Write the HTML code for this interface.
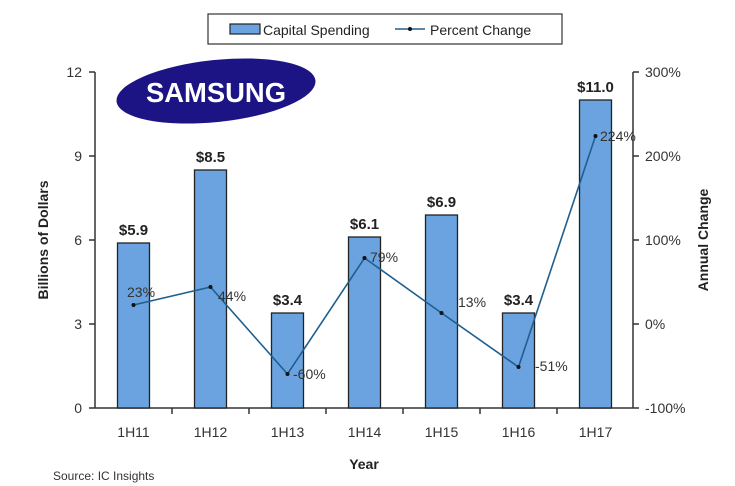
<!DOCTYPE html>
<html><head><style>body{margin:0;background:#fff}svg{display:block}text{font-family:"Liberation Sans",sans-serif}</style></head>
<body>
<svg width="735" height="486" viewBox="0 0 735 486">
<rect x="208" y="14" width="354" height="30" fill="#fff" stroke="#333" stroke-width="1.2"/>
<rect x="230" y="24" width="30" height="10" fill="#6aa3df" stroke="#222" stroke-width="1.2"/>
<text x="263" y="35" font-size="14" fill="#222">Capital Spending</text>
<line x1="395" y1="29" x2="425" y2="29" stroke="#1f5f8f" stroke-width="1.5"/>
<circle cx="410" cy="29" r="2" fill="#111"/>
<text x="430" y="35" font-size="14" fill="#222">Percent Change</text>
<ellipse cx="216" cy="91" rx="100" ry="31" transform="rotate(-6 216 91)" fill="#1c1485"/>
<text x="216" y="102" font-size="28" font-weight="bold" fill="#fff" text-anchor="middle" textLength="140" lengthAdjust="spacingAndGlyphs">SAMSUNG</text>
<g stroke="#333" stroke-width="1.5">
<line x1="95" y1="72" x2="95" y2="408"/><line x1="633" y1="72" x2="633" y2="408"/><line x1="95" y1="408" x2="633" y2="408"/>
<line x1="89" y1="72" x2="95" y2="72"/><line x1="89" y1="156" x2="95" y2="156"/><line x1="89" y1="240" x2="95" y2="240"/><line x1="89" y1="324" x2="95" y2="324"/><line x1="89" y1="408" x2="95" y2="408"/>
<line x1="633" y1="72" x2="639" y2="72"/><line x1="633" y1="156" x2="639" y2="156"/><line x1="633" y1="240" x2="639" y2="240"/><line x1="633" y1="324" x2="639" y2="324"/><line x1="633" y1="408" x2="639" y2="408"/>
<line x1="172" y1="408" x2="172" y2="414"/><line x1="249" y1="408" x2="249" y2="414"/><line x1="326" y1="408" x2="326" y2="414"/><line x1="403" y1="408" x2="403" y2="414"/><line x1="480" y1="408" x2="480" y2="414"/><line x1="557" y1="408" x2="557" y2="414"/>
</g>
<g font-size="14" fill="#333" text-anchor="end">
<text x="82" y="77">12</text><text x="82" y="161">9</text><text x="82" y="245">6</text><text x="82" y="329">3</text><text x="82" y="413">0</text>
</g>
<g font-size="14" fill="#333">
<text x="645" y="77">300%</text><text x="645" y="161">200%</text><text x="645" y="245">100%</text><text x="645" y="329">0%</text><text x="645" y="413">-100%</text>
</g>
<g fill="#6aa3df" stroke="#222" stroke-width="1.3">
<rect x="117.5" y="243" width="32" height="165"/>
<rect x="194.5" y="170" width="32" height="238"/>
<rect x="271.5" y="313" width="32" height="95"/>
<rect x="348.5" y="237" width="32" height="171"/>
<rect x="425.5" y="215" width="32" height="193"/>
<rect x="502.5" y="313" width="32" height="95"/>
<rect x="579.5" y="100" width="32" height="308"/>
</g>
<g font-size="15" font-weight="bold" fill="#222" text-anchor="middle">
<text x="133.5" y="235">$5.9</text><text x="210.5" y="162">$8.5</text><text x="287.5" y="305">$3.4</text><text x="364.5" y="229">$6.1</text><text x="441.5" y="207">$6.9</text><text x="518.5" y="305">$3.4</text><text x="595.5" y="92">$11.0</text>
</g>
<polyline points="133.5,305 210.5,287 287.5,374 364.5,258 441.5,313 518.5,367 595.5,136" fill="none" stroke="#1f5f8f" stroke-width="1.6"/>
<g fill="#111"><circle cx="133.5" cy="305" r="2"/><circle cx="210.5" cy="287" r="2"/><circle cx="287.5" cy="374" r="2"/><circle cx="364.5" cy="258" r="2"/><circle cx="441.5" cy="313" r="2"/><circle cx="518.5" cy="367" r="2"/><circle cx="595.5" cy="136" r="2"/></g>
<g font-size="14" fill="#333">
<text x="127" y="297">23%</text><text x="218" y="301">44%</text><text x="293" y="379">-60%</text><text x="370" y="262">79%</text><text x="458" y="307">13%</text><text x="535" y="371">-51%</text><text x="600" y="141">224%</text>
</g>
<g font-size="14" fill="#333" text-anchor="middle">
<text x="133.5" y="437">1H11</text><text x="210.5" y="437">1H12</text><text x="287.5" y="437">1H13</text><text x="364.5" y="437">1H14</text><text x="441.5" y="437">1H15</text><text x="518.5" y="437">1H16</text><text x="595.5" y="437">1H17</text>
</g>
<text x="364" y="469" font-size="14" font-weight="bold" fill="#222" text-anchor="middle">Year</text>
<text x="53" y="480" font-size="12" fill="#333">Source: IC Insights</text>
<text transform="translate(48 240) rotate(-90)" font-size="14" font-weight="bold" fill="#222" text-anchor="middle">Billions of Dollars</text>
<text transform="translate(708 240) rotate(-90)" font-size="14" font-weight="bold" fill="#222" text-anchor="middle">Annual Change</text>
</svg>
</body></html>
